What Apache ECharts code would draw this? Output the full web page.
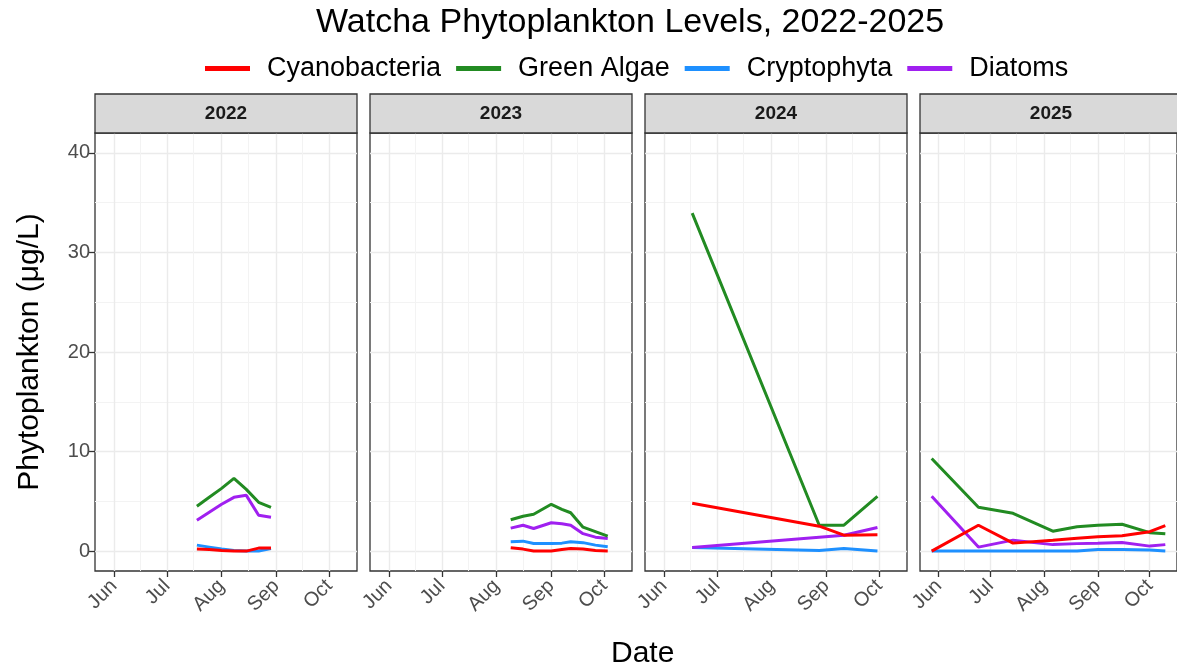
<!DOCTYPE html>
<html><head><meta charset="utf-8">
<script src="https://cdn.jsdelivr.net/npm/echarts@6/dist/echarts.min.js"></script>
<style>html,body{margin:0;padding:0;background:#fff}#c{width:1177px;height:669px}</style>
</head><body><div id="c"></div>
<script>
// ---------------- data ----------------
const years = ['2022', '2023', '2024', '2025'];
const seriesNames = ['Cyanobacteria', 'Green Algae', 'Cryptophyta', 'Diatoms'];
const monthLabels = ['Jun', 'Jul', 'Aug', 'Sep', 'Oct'];
const monthTickDates = ['06-01', '07-01', '08-01', '09-01', '10-01'];
const minorTickDates = ['06-16', '07-16', '08-16', '09-16'];
const yTickLabels = [0, 10, 20, 30, 40];
const yMinorTicks = [5, 15, 25, 35];

const dates2022 = ['2022-07-18', '2022-07-25', '2022-08-01', '2022-08-08', '2022-08-15', '2022-08-22', '2022-08-29'];
const cyano2022 = [0.2, 0.15, 0.05, 0.0, 0.0, 0.3, 0.3];
const green2022 = [4.5, 5.4, 6.3, 7.3, 6.2, 4.9, 4.4];
const crypto2022 = [0.6, 0.4, 0.2, 0.05, 0.0, 0.0, 0.25];
const diatom2022 = [3.1, 3.9, 4.7, 5.4, 5.6, 3.6, 3.4];

const dates2023 = ['2023-08-09', '2023-08-16', '2023-08-22', '2023-09-01', '2023-09-07', '2023-09-12', '2023-09-19', '2023-09-26', '2023-10-03'];
const cyano2023 = [0.33, 0.2, 0.0, 0.0, 0.15, 0.27, 0.2, 0.05, 0.0];
const green2023 = [3.15, 3.5, 3.7, 4.7, 4.2, 3.85, 2.4, 1.95, 1.5];
const crypto2023 = [0.94, 1.0, 0.77, 0.77, 0.8, 0.94, 0.85, 0.6, 0.44];
const diatom2023 = [2.31, 2.6, 2.27, 2.85, 2.75, 2.6, 1.75, 1.4, 1.27];

const dates2024 = ['2024-06-17', '2024-08-28', '2024-09-11', '2024-09-30'];
const cyano2024 = [4.8, 2.5, 1.6, 1.65];
const green2024 = [33.95, 2.6, 2.6, 5.5];
const crypto2024 = [0.37, 0.05, 0.27, 0.0];
const diatom2024 = [0.37, 1.4, 1.6, 2.37];

const dates2025 = ['2025-05-28', '2025-06-24', '2025-07-14', '2025-08-06', '2025-08-20', '2025-09-01', '2025-09-15', '2025-10-01', '2025-10-10'];
const cyano2025 = [0.0, 2.6, 0.8, 1.1, 1.3, 1.45, 1.55, 1.95, 2.55];
const green2025 = [9.3, 4.4, 3.8, 2.0, 2.45, 2.6, 2.7, 1.85, 1.75];
const crypto2025 = [0.0, 0.0, 0.0, 0.0, 0.0, 0.15, 0.15, 0.1, 0.0];
const diatom2025 = [5.5, 0.4, 1.1, 0.65, 0.75, 0.8, 0.87, 0.5, 0.65];

// ---------------- build ----------------
const colors = {'Cyanobacteria': '#FF0000', 'Green Algae': '#228B22', 'Cryptophyta': '#1E90FF', 'Diatoms': '#A020F0'};
const yearData = {
  '2022': {dates: dates2022, 'Cyanobacteria': cyano2022, 'Green Algae': green2022, 'Cryptophyta': crypto2022, 'Diatoms': diatom2022},
  '2023': {dates: dates2023, 'Cyanobacteria': cyano2023, 'Green Algae': green2023, 'Cryptophyta': crypto2023, 'Diatoms': diatom2023},
  '2024': {dates: dates2024, 'Cyanobacteria': cyano2024, 'Green Algae': green2024, 'Cryptophyta': crypto2024, 'Diatoms': diatom2024},
  '2025': {dates: dates2025, 'Cyanobacteria': cyano2025, 'Green Algae': green2025, 'Cryptophyta': crypto2025, 'Diatoms': diatom2025}
};
// every season is drawn on a common reference year (days since Jan 1)
const DAY = 86400000;
const REF = Date.UTC(2000, 0, 1);
function toCommon(md) {
  const p = md.split('-').map(Number);
  const m = p.length === 3 ? p[1] : p[0];
  const d = p.length === 3 ? p[2] : p[1];
  return (Date.UTC(2000, m - 1, d) - REF) / DAY;
}
const xMin = (Date.UTC(2000, 4, 21, 6) - REF) / DAY;
const xMax = (Date.UTC(2000, 9, 16, 18) - REF) / DAY;
const majorX = monthTickDates.map(toCommon);
const minorX = minorTickDates.map(toCommon);

const FONT = "'Liberation Sans', Arial, Helvetica, sans-serif";
const panelLeft0 = 95, panelStep = 275, panelW = 262, panelTop = 133, panelH = 438;

const grids = [], xAxes = [], yAxes = [], series = [], graphics = [];
const drawOrder = ['Cryptophyta', 'Diatoms', 'Green Algae', 'Cyanobacteria'];

years.forEach((yr, i) => {
  const left = panelLeft0 + panelStep * i;
  grids.push({left: left, top: panelTop, width: panelW, height: panelH, show: true,
    borderColor: '#333333', borderWidth: 1.3, backgroundColor: '#fff', containLabel: false});
  xAxes.push({type: 'value', gridIndex: i, min: xMin, max: xMax, position: 'bottom',
    axisLine: {show: false, onZero: false},
    axisTick: {show: true, length: 6, lineStyle: {color: '#333333', width: 1.3}, customValues: majorX},
    axisLabel: {show: true, customValues: majorX, rotate: 45, margin: 12, padding: [19, 0, 0, 0],
      fontSize: 20, color: '#4D4D4D', fontFamily: FONT,
      formatter: v => monthLabels[majorX.indexOf(v)] || ''},
    splitLine: {show: true, lineStyle: {color: '#EBEBEB', width: 1.4}}
  });
  xAxes.push({type: 'value', gridIndex: i, min: xMin, max: xMax, position: 'top',
    axisLine: {show: false, onZero: false}, axisTick: {show: false, customValues: minorX}, axisLabel: {show: false},
    splitLine: {show: true, lineStyle: {color: '#F3F3F3', width: 1}}
  });
  yAxes.push({type: 'value', gridIndex: i, min: -2, max: 42, position: 'left',
    axisLine: {show: false, onZero: false},
    axisTick: {show: i === 0, length: 6, lineStyle: {color: '#333333', width: 1.3}, customValues: yTickLabels},
    axisLabel: {show: i === 0, customValues: yTickLabels, fontSize: 20, color: '#4D4D4D', margin: 5, fontFamily: FONT},
    splitLine: {show: true, lineStyle: {color: '#EBEBEB', width: 1.4}},
    name: i === 0 ? 'Phytoplankton (μg/L)' : '', nameLocation: 'middle', nameGap: 50, nameRotate: 90,
    nameTextStyle: {fontSize: 30, color: '#000', fontFamily: FONT}
  });
  yAxes.push({type: 'value', gridIndex: i, min: -2, max: 42, position: 'right',
    axisLine: {show: false, onZero: false}, axisTick: {show: false, customValues: yMinorTicks}, axisLabel: {show: false},
    splitLine: {show: true, lineStyle: {color: '#F3F3F3', width: 1}}
  });
  drawOrder.forEach(name => {
    const d = yearData[yr];
    series.push({type: 'line', name: name, xAxisIndex: i * 2, yAxisIndex: i * 2,
      data: d.dates.map((dt, k) => [toCommon(dt), d[name][k]]),
      showSymbol: false, symbol: 'none', lineStyle: {width: 3, color: colors[name]}, itemStyle: {color: colors[name]},
      animation: false, silent: true, clip: true});
  });
  graphics.push({type: 'rect', shape: {x: left, y: 94, width: panelW, height: panelTop - 94},
    style: {fill: '#D9D9D9', stroke: '#333333', lineWidth: 1.3}, z: 10});
  graphics.push({type: 'text', x: left + panelW / 2, y: 94 + (panelTop - 94) / 2,
    style: {text: yr, fill: '#1A1A1A', font: 'bold 19px ' + FONT, align: 'center', verticalAlign: 'middle'}, z: 11});
});

const option = {
  backgroundColor: '#ffffff',
  animation: false,
  title: [
    {text: 'Watcha Phytoplankton Levels, 2022-2025', left: 311, top: 1,
      textStyle: {fontSize: 34, fontWeight: 'normal', color: '#000', fontFamily: FONT}},
    {text: 'Date', left: 606, top: 634,
      textStyle: {fontSize: 30, fontWeight: 'normal', color: '#000', fontFamily: FONT}}
  ],
  legend: {
    data: seriesNames.map(n => ({name: n, icon: 'rect', itemStyle: {color: colors[n]}})),
    left: 200, top: 50, itemWidth: 45, itemHeight: 5, itemGap: 15,
    textStyle: {fontSize: 27, color: '#000', fontFamily: FONT, padding: [0, 0, 0, 12]},
    selectedMode: false
  },
  grid: grids,
  xAxis: xAxes,
  yAxis: yAxes,
  series: series,
  graphic: graphics
};
const chart = echarts.init(document.getElementById('c'), null, {renderer: 'canvas'});
chart.setOption(option);
</script></body></html>
